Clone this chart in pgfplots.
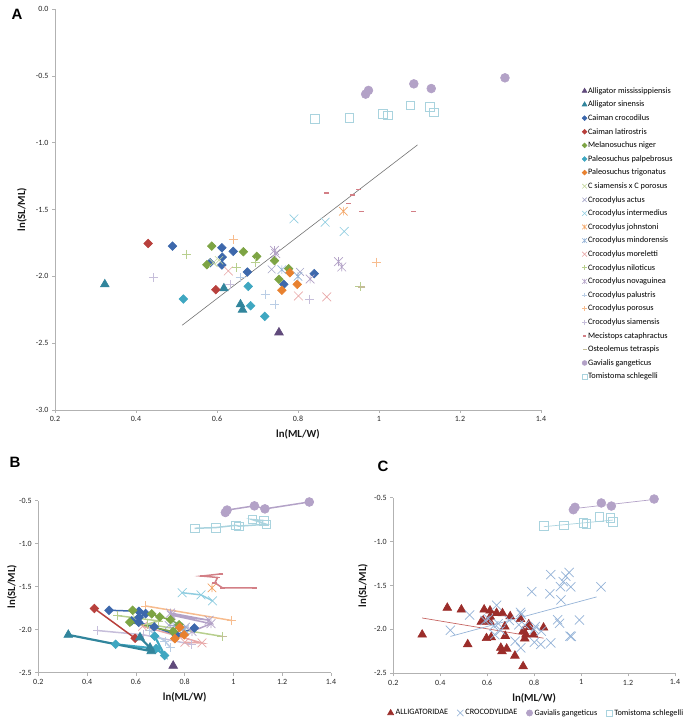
\documentclass[border=0pt]{standalone}
\usepackage{fontspec}
\setmainfont{Carlito}
\newfontfamily\panelfont{Liberation Sans}
\usepackage{pgfplots}
\usepackage{pgfplotstable}
\pgfplotsset{compat=1.18}

% colours, Excel-like palette
\definecolor{cAmis}{HTML}{604A7B}
\definecolor{cAsin}{HTML}{31859C}
\definecolor{cCroc}{HTML}{3D68AC}
\definecolor{cLati}{HTML}{B8403C}
\definecolor{cMela}{HTML}{7DA444}
\definecolor{cPalp}{HTML}{3FA7C1}
\definecolor{cTrig}{HTML}{E8812F}
\definecolor{cCsxp}{HTML}{C3D69B}
\definecolor{cActu}{HTML}{A5A5C8}
\definecolor{cInte}{HTML}{8FCDE0}
\definecolor{cJohn}{HTML}{F3A566}
\definecolor{cMind}{HTML}{95B3D7}
\definecolor{cMore}{HTML}{E8A8A8}
\definecolor{cNilo}{HTML}{B8CF8E}
\definecolor{cNova}{HTML}{B3A2C7}
\definecolor{cPalu}{HTML}{B9CDE5}
\definecolor{cPoro}{HTML}{F7BC8E}
\definecolor{cSiam}{HTML}{C6BEDA}
\definecolor{cMeci}{HTML}{D37F86}
\definecolor{cOste}{HTML}{C4BD97}
\definecolor{cGavi}{HTML}{B3A2C7}
\definecolor{cTomi}{HTML}{A9D3DE}
\definecolor{cAllig}{HTML}{9B2D2A}
\definecolor{cCrocC}{HTML}{95B3D7}

\pgfdeclareplotmark{ediamond}{%
  \pgfpathmoveto{\pgfqpoint{0pt}{\pgfplotmarksize}}%
  \pgfpathlineto{\pgfqpoint{\pgfplotmarksize}{0pt}}%
  \pgfpathlineto{\pgfqpoint{0pt}{-\pgfplotmarksize}}%
  \pgfpathlineto{\pgfqpoint{-\pgfplotmarksize}{0pt}}%
  \pgfpathclose\pgfusepathqfillstroke}
\pgfdeclareplotmark{xstar}{%
  \pgfpathmoveto{\pgfqpoint{-.7071\pgfplotmarksize}{-.7071\pgfplotmarksize}}%
  \pgfpathlineto{\pgfqpoint{.7071\pgfplotmarksize}{.7071\pgfplotmarksize}}%
  \pgfpathmoveto{\pgfqpoint{-.7071\pgfplotmarksize}{.7071\pgfplotmarksize}}%
  \pgfpathlineto{\pgfqpoint{.7071\pgfplotmarksize}{-.7071\pgfplotmarksize}}%
  \pgfpathmoveto{\pgfqpoint{0pt}{-.7071\pgfplotmarksize}}%
  \pgfpathlineto{\pgfqpoint{0pt}{.7071\pgfplotmarksize}}%
  \pgfusepathqstroke}

% data: x = ln(ML/W), y = ln(SL/ML)
\pgfplotstableread{
x y
0.753 -2.42
}\tAmis
\pgfplotstableread{
x y
0.323 -2.06
0.663 -2.25
0.658 -2.21
0.617 -2.09
}\tAsin
\pgfplotstableread{
x y
0.490 -1.774
0.612 -1.786
0.640 -1.813
0.613 -1.856
0.583 -1.898
0.612 -1.915
0.675 -1.968
0.765 -2.060
0.840 -1.980
}\tCroc
\pgfplotstableread{
x y
0.430 -1.754
0.597 -2.100
}\tLati
\pgfplotstableread{
x y
0.587 -1.774
0.665 -1.816
0.698 -1.851
0.742 -1.883
0.777 -1.943
0.753 -2.022
0.575 -1.913
}\tMela
\pgfplotstableread{
x y
0.517 -2.170
0.683 -2.220
0.718 -2.300
0.677 -2.075
}\tPalp
\pgfplotstableread{
x y
0.780 -1.973
0.760 -2.104
0.798 -2.060
}\tTrig
\pgfplotstableread{
x y
0.591 -1.898
0.605 -1.880
}\tCsxp
\pgfplotstableread{
x y
0.735 -1.948
0.805 -1.967
}\tActu
\pgfplotstableread{
x y
0.790 -1.570
0.867 -1.595
0.914 -1.664
}\tInte
\pgfplotstableread{
x y
0.912 -1.513
}\tJohn
\pgfplotstableread{
x y
0.760 -1.950
0.800 -2.000
}\tMind
\pgfplotstableread{
x y
0.628 -1.960
0.871 -2.154
0.801 -2.147
}\tMore
\pgfplotstableread{
x y
0.525 -1.836
0.694 -1.898
0.647 -1.935
0.953 -2.077
}\tNilo
\pgfplotstableread{
x y
0.742 -1.806
0.900 -1.890
0.745 -1.830
0.908 -1.930
0.830 -2.020
}\tNova
\pgfplotstableread{
x y
0.657 -2.010
0.719 -2.134
0.743 -2.210
}\tPalu
\pgfplotstableread{
x y
0.640 -1.724
0.993 -1.893
}\tPoro
\pgfplotstableread{
x y
0.443 -2.010
0.632 -2.060
0.828 -2.170
}\tSiam
\pgfplotstableread{
x y
0.949 -1.351
0.871 -1.376
0.935 -1.393
0.924 -1.455
0.956 -1.515
1.085 -1.515
}\tMeci
\pgfplotstableread{
x y
0.958 -2.080
}\tOste
\pgfplotstableread{
x y
0.967 -0.637
0.974 -0.609
1.086 -0.560
1.129 -0.595
1.311 -0.515
}\tGavi
\pgfplotstableread{
x y
0.841 -0.821
0.927 -0.813
1.009 -0.786
1.022 -0.796
1.135 -0.774
1.077 -0.719
1.125 -0.731
}\tTomi

\pgfplotsset{
  base/.style={scale only axis, anchor=south west,
    xmin=0.2, xmax=1.4,
    xtick={0.2,0.4,0.6,0.8,1,1.2,1.4},
    xticklabels={0.2,0.4,0.6,0.8,1,1.2,1.4},
    axis lines*=left,
    axis line style={draw=black!30, line width=0.6pt},
    tick style={draw=black!30, line width=0.6pt},
    tick align=outside, major tick length=3pt,
    ticklabel style={font=\fontsize{8}{9}\selectfont, text=black!85},
    label style={font=\fontsize{10.8}{12}\selectfont\bfseries, text=black!90},
    clip=false,
    every axis plot/.append style={line width=0.6pt}},
  sAmis/.style={color=cAmis, mark=triangle*, mark size=5pt},
  sAsin/.style={color=cAsin, mark=triangle*, mark size=5pt},
  sCroc/.style={color=cCroc, mark=ediamond, mark size=4.3pt},
  sLati/.style={color=cLati, mark=ediamond, mark size=4.3pt},
  sMela/.style={color=cMela, mark=ediamond, mark size=4.3pt},
  sPalp/.style={color=cPalp, mark=ediamond, mark size=4.3pt},
  sTrig/.style={color=cTrig, mark=ediamond, mark size=4.3pt},
  sCsxp/.style={color=cCsxp, mark=x, mark size=5.8pt},
  sActu/.style={color=cActu, mark=x, mark size=5.5pt},
  sInte/.style={color=cInte, mark=x, mark size=6.2pt},
  sJohn/.style={color=cJohn, mark=xstar, mark size=6pt},
  sMind/.style={color=cMind, mark=xstar, mark size=6pt},
  sMore/.style={color=cMore, mark=x, mark size=6.2pt},
  sNilo/.style={color=cNilo, mark=+, mark size=4.5pt},
  sNova/.style={color=cNova, mark=xstar, mark size=6.2pt},
  sPalu/.style={color=cPalu, mark=+, mark size=4.5pt},
  sPoro/.style={color=cPoro, mark=+, mark size=4.5pt},
  sSiam/.style={color=cSiam, mark=+, mark size=4.5pt},
  sMeci/.style={color=cMeci, mark=-, mark size=2.4pt, mark options={line width=1.6pt}},
  sOste/.style={color=cOste, mark=-, mark size=3.5pt, mark options={line width=1.1pt}},
  sGavi/.style={color=cGavi, mark=*, mark size=4.4pt},
  sTomi/.style={color=cTomi, mark=square, mark size=4.3pt},
}

\begin{document}
\begin{tikzpicture}
\path[use as bounding box] (0,0) rectangle (687pt,728pt);

% ---------------- panel A ----------------
\begin{axis}[base, at={(55pt,318pt)}, width=486pt, height=401pt,
  ymin=-3, ymax=0,
  ytick={-3,-2.5,-2,-1.5,-1,-0.5,0},
  yticklabels={-3.0,-2.5,-2.0,-1.5,-1.0,-0.5,0.0},
  xlabel={ln(ML/W)}, ylabel={ln(SL/ML)},
  xlabel style={at={(axis description cs:0.5,-0.060)}, anchor=center},
  ylabel style={at={(axis description cs:-0.068,0.5)}, anchor=center},
  legend cell align=left,
  legend image code/.code={\draw[every mark/.append style={scale=0.55},#1] plot coordinates {(0.05cm,0cm)};},
  legend style={at={(1.078,0.818)}, anchor=north west, draw=none, fill=none,
    font=\fontsize{8.3}{9}\selectfont,
    nodes={inner sep=1pt, text height=8.2pt, text depth=3.4pt}},
]
\addplot[only marks, sAmis] table {\tAmis}; \addlegendentry{Alligator mississippiensis}
\addplot[only marks, sAsin] table {\tAsin}; \addlegendentry{Alligator sinensis}
\addplot[only marks, sCroc] table {\tCroc}; \addlegendentry{Caiman crocodilus}
\addplot[only marks, sLati] table {\tLati}; \addlegendentry{Caiman latirostris}
\addplot[only marks, sMela] table {\tMela}; \addlegendentry{Melanosuchus niger}
\addplot[only marks, sPalp] table {\tPalp}; \addlegendentry{Paleosuchus palpebrosus}
\addplot[only marks, sTrig] table {\tTrig}; \addlegendentry{Paleosuchus trigonatus}
\addplot[only marks, sCsxp] table {\tCsxp}; \addlegendentry{C siamensis x C porosus}
\addplot[only marks, sActu] table {\tActu}; \addlegendentry{Crocodylus actus}
\addplot[only marks, sInte] table {\tInte}; \addlegendentry{Crocodylus intermedius}
\addplot[only marks, sJohn] table {\tJohn}; \addlegendentry{Crocodylus johnstoni}
\addplot[only marks, sMind] table {\tMind}; \addlegendentry{Crocodylus mindorensis}
\addplot[only marks, sMore] table {\tMore}; \addlegendentry{Crocodylus moreletti}
\addplot[only marks, sNilo] table {\tNilo}; \addlegendentry{Crocodylus niloticus}
\addplot[only marks, sNova] table {\tNova}; \addlegendentry{Crocodylus novaguinea}
\addplot[only marks, sPalu] table {\tPalu}; \addlegendentry{Crocodylus palustris}
\addplot[only marks, sPoro] table {\tPoro}; \addlegendentry{Crocodylus porosus}
\addplot[only marks, sSiam] table {\tSiam}; \addlegendentry{Crocodylus siamensis}
\addplot[only marks, sMeci] table {\tMeci}; \addlegendentry{Mecistops cataphractus}
\addplot[only marks, sOste] table {\tOste}; \addlegendentry{Osteolemus tetraspis}
\addplot[only marks, sGavi] table {\tGavi}; \addlegendentry{Gavialis gangeticus}
\addplot[only marks, sTomi] table {\tTomi}; \addlegendentry{Tomistoma schlegelli}
% overall regression line
\addplot[forget plot, no marks, draw=black!55, line width=0.6pt] coordinates {(0.514,-2.366) (1.095,-1.017)};
\end{axis}

% ---------------- panel B ----------------
\begin{axis}[base, at={(38.3pt,55.3pt)}, width=292.7pt, height=172pt,
  ymin=-2.5, ymax=-0.5,
  ytick={-2.5,-2,-1.5,-1,-0.5},
  yticklabels={-2.5,-2.0,-1.5,-1.0,-0.5},
  xlabel={ln(ML/W)}, ylabel={ln(SL/ML)},
  xlabel style={at={(axis description cs:0.5,-0.141)}, anchor=center},
  ylabel style={at={(axis description cs:-0.090,0.5)}, anchor=center},
  every axis plot/.append style={line width=1.5pt, mark options={line width=0.7pt}},
]
\addplot[sPoro] table {\tPoro};
\addplot[sNilo] table {\tNilo};
\addplot[sSiam] table {\tSiam};
\addplot[sPalu] table {\tPalu};
\addplot[sMore] table {\tMore};
\addplot[sActu] table {\tActu};
\addplot[sMind] table {\tMind};
\addplot[sCsxp] table {\tCsxp};
\addplot[sNova] table {\tNova};
\addplot[sInte] table {\tInte};
\addplot[sJohn] table {\tJohn};
\addplot[sMeci, mark options={line width=1.6pt}] table {\tMeci};
\addplot[sOste, mark options={line width=1.1pt}] table {\tOste};
\addplot[sCroc] table {\tCroc};
\addplot[sMela] table {\tMela};
\addplot[sTrig] table {\tTrig};
\addplot[sLati] table {\tLati};
\addplot[sPalp, line width=2.2pt] table {\tPalp};
\addplot[sAsin, line width=2.2pt] table {\tAsin};
\addplot[sAmis] table {\tAmis};
\addplot[sGavi] table {\tGavi};
\addplot[sTomi] table {\tTomi};
\end{axis}

% ---------------- panel C ----------------
\begin{axis}[base, at={(393.3pt,54.7pt)}, width=281.7pt, height=175.6pt,
  ymin=-2.5, ymax=-0.5,
  ytick={-2.5,-2,-1.5,-1,-0.5},
  yticklabels={-2.5,-2.0,-1.5,-1.0,-0.5},
  xlabel={ln(ML/W)}, ylabel={ln(SL/ML)},
  xlabel style={at={(axis description cs:0.5,-0.141)}, anchor=center},
  ylabel style={at={(axis description cs:-0.108,0.5)}, anchor=center},
  legend columns=4,
  legend image code/.code={\draw[every mark/.append style={scale=0.7},#1] plot coordinates {(0.05cm,0cm)};},
  legend style={at={(0.508,-0.226)}, anchor=center, draw=none, fill=none,
    font=\fontsize{8.2}{9}\selectfont,
    /tikz/every even column/.append style={column sep=7pt}},
  aly/.style={only marks, color=cAllig, mark=triangle*, mark size=5pt},
  cry/.style={only marks, color=cCrocC, mark=x, mark size=6.5pt, line width=0.7pt},
]
\addplot[aly] table {\tAmis}; \addlegendentry{ALLIGATORIDAE}
\addplot[aly, forget plot] table {\tAsin};
\addplot[aly, forget plot] table {\tCroc};
\addplot[aly, forget plot] table {\tLati};
\addplot[aly, forget plot] table {\tMela};
\addplot[aly, forget plot] table {\tPalp};
\addplot[aly, forget plot] table {\tTrig};
\addplot[cry] table {\tCsxp}; \addlegendentry{CROCODYLIDAE}
\addplot[cry, forget plot] table {\tActu};
\addplot[cry, forget plot] table {\tInte};
\addplot[cry, forget plot] table {\tJohn};
\addplot[cry, forget plot] table {\tMind};
\addplot[cry, forget plot] table {\tMore};
\addplot[cry, forget plot] table {\tNilo};
\addplot[cry, forget plot] table {\tNova};
\addplot[cry, forget plot] table {\tPalu};
\addplot[cry, forget plot] table {\tPoro};
\addplot[cry, forget plot] table {\tSiam};
\addplot[cry, forget plot] table {\tMeci};
\addplot[cry, forget plot] table {\tOste};
\addplot[only marks, sGavi] table {\tGavi}; \addlegendentry{Gavialis gangeticus}
\addplot[only marks, sTomi] table {\tTomi}; \addlegendentry{Tomistoma schlegelli}
% group trend lines
\addplot[forget plot, no marks, draw=cLati!80, line width=0.7pt] coordinates {(0.323,-1.87) (0.840,-2.10)};
\addplot[forget plot, no marks, draw=cCrocC, line width=0.7pt] coordinates {(0.443,-2.08) (1.066,-1.63)};
\addplot[forget plot, no marks, draw=cGavi, line width=0.7pt] coordinates {(0.967,-0.625) (1.311,-0.52)};
\addplot[forget plot, no marks, draw=cTomi, line width=0.7pt] coordinates {(0.841,-0.83) (1.135,-0.755)};
\end{axis}

\node[font=\panelfont\bfseries\fontsize{15}{16}\selectfont] at (17pt,714pt) {A};
\node[font=\panelfont\bfseries\fontsize{15}{16}\selectfont] at (15pt,266pt) {B};
\node[font=\panelfont\bfseries\fontsize{15}{16}\selectfont] at (383pt,262pt) {C};
\end{tikzpicture}
\end{document}
